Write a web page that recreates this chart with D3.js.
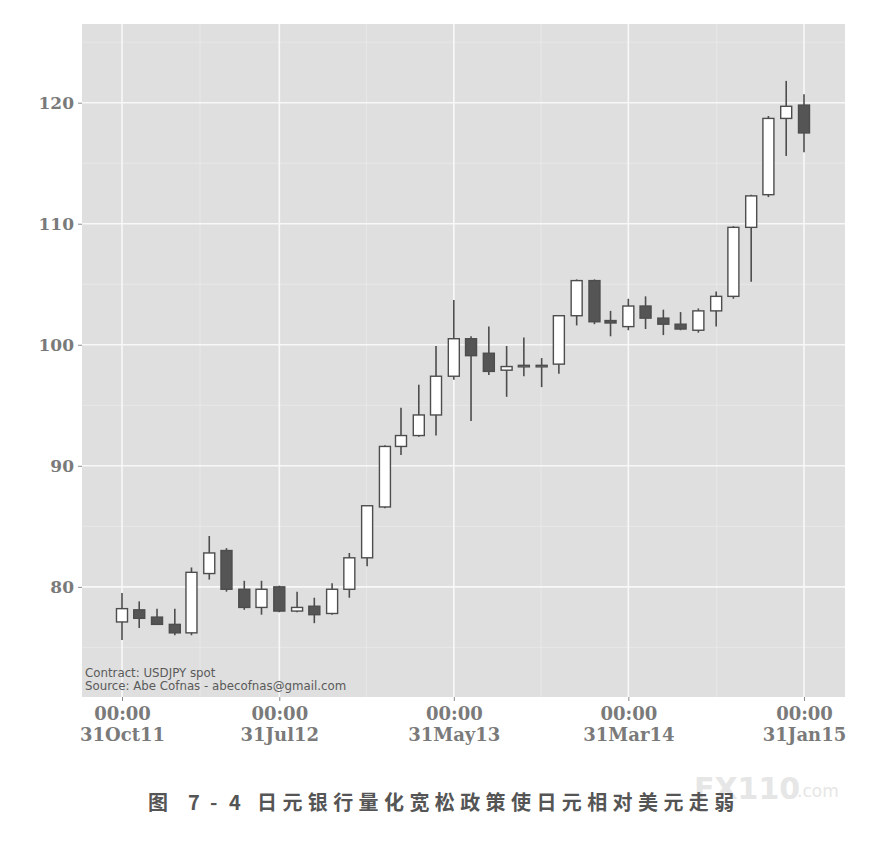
<!DOCTYPE html>
<html>
<head>
<meta charset="utf-8">
<script src="https://cdn.jsdelivr.net/npm/d3@7"></script>
<style>
  body { margin: 0; background: #fff; }
  svg { display: block; }
</style>
</head>
<body>
<div id="chart"></div>
<script>
// monthly USDJPY candles, month-end dates
const months = [
  '2011-10-31','2011-11-30','2011-12-31','2012-01-31','2012-02-29','2012-03-31','2012-04-30','2012-05-31',
  '2012-06-30','2012-07-31','2012-08-31','2012-09-30','2012-10-31','2012-11-30','2012-12-31','2013-01-31',
  '2013-02-28','2013-03-31','2013-04-30','2013-05-31','2013-06-30','2013-07-31','2013-08-31','2013-09-30',
  '2013-10-31','2013-11-30','2013-12-31','2014-01-31','2014-02-28','2014-03-31','2014-04-30','2014-05-31',
  '2014-06-30','2014-07-31','2014-08-31','2014-09-30','2014-10-31','2014-11-30','2014-12-31','2015-01-31'
];
const opens  = [77.1, 78.1, 77.5, 76.9, 76.2, 81.1, 83.0, 79.8, 78.3, 80.0, 78.0, 78.4, 77.8, 79.8, 82.4, 86.6,
                91.6, 92.5, 94.2, 97.4, 100.5, 99.3, 97.9, 98.2, 98.2, 98.4, 102.4, 105.3, 102.0, 101.5, 103.2, 102.2,
                101.7, 101.2, 102.8, 104.0, 109.7, 112.4, 118.7, 119.8];
const highs  = [79.5, 78.8, 78.2, 78.2, 81.6, 84.2, 83.2, 80.5, 80.5, 80.1, 79.6, 79.1, 80.3, 82.8, 86.7, 91.7,
                94.8, 96.7, 99.9, 103.7, 100.7, 101.5, 99.9, 100.6, 98.9, 102.4, 105.4, 105.4, 102.8, 103.8, 104.0, 102.9,
                102.7, 103.0, 104.4, 109.8, 112.4, 118.9, 121.8, 120.7];
const lows   = [75.6, 76.6, 76.9, 76.0, 76.0, 80.6, 79.6, 78.1, 77.7, 77.9, 77.9, 77.0, 77.7, 79.1, 81.7, 86.5,
                90.9, 92.4, 92.5, 97.1, 93.7, 97.5, 95.7, 97.4, 96.5, 97.6, 101.6, 101.7, 100.7, 101.2, 101.3, 100.8,
                101.2, 101.0, 101.5, 103.8, 105.2, 112.2, 115.6, 115.9];
const closes = [78.2, 77.4, 76.9, 76.2, 81.2, 82.8, 79.8, 78.3, 79.8, 78.0, 78.3, 77.7, 79.8, 82.4, 86.7, 91.6,
                92.5, 94.2, 97.4, 100.5, 99.1, 97.8, 98.2, 98.3, 98.3, 102.4, 105.3, 101.9, 101.8, 103.2, 102.2, 101.7,
                101.3, 102.8, 104.0, 109.7, 112.3, 118.7, 119.7, 117.5];

const xTicks = ['2011-10-31','2012-07-31','2013-05-31','2014-03-31','2015-01-31'];
const xMinorTicks = ['2012-03-15','2012-12-30','2013-10-30','2014-09-01'];
const yTicks = [80, 90, 100, 110, 120];
const yMinorTicks = [75, 85, 95, 105, 115, 125];

const noteLines = ['Contract: USDJPY spot', 'Source: Abe Cofnas - abecofnas@gmail.com'];
const captionNum = ['图', '7', '-', '4'];
const captionText = '日元银行量化宽松政策使日元相对美元走弱';

const W = 884, H = 843;
const panel = {left: 82, right: 845, top: 24, bottom: 697};

const parse = d3.utcParse('%Y-%m-%d');
const candles = months.map((m, i) => ({
  date: parse(m), open: opens[i], high: highs[i], low: lows[i], close: closes[i]
}));

const svg = d3.select('#chart').append('svg')
  .attr('width', W).attr('height', H);

const x = d3.scaleUtc()
  .domain([parse(xTicks[0]), parse(xTicks[xTicks.length - 1])])
  .range([122, 804]);

const y = d3.scaleLinear()
  .domain([70.9, 126.5])
  .range([panel.bottom, panel.top]);

// panel
svg.append('rect')
  .attr('x', panel.left).attr('y', panel.top)
  .attr('width', panel.right - panel.left).attr('height', panel.bottom - panel.top)
  .attr('fill', '#dfdfdf');

const grid = svg.append('g');
grid.selectAll('.ymin').data(yMinorTicks).join('line')
  .attr('x1', panel.left).attr('x2', panel.right)
  .attr('y1', d => y(d)).attr('y2', d => y(d))
  .attr('stroke', '#eaeaea').attr('stroke-width', 0.8);
grid.selectAll('.xmin').data(xMinorTicks).join('line')
  .attr('x1', d => x(parse(d))).attr('x2', d => x(parse(d)))
  .attr('y1', panel.top).attr('y2', panel.bottom)
  .attr('stroke', '#eaeaea').attr('stroke-width', 0.8);
grid.selectAll('.ymaj').data(yTicks).join('line')
  .attr('x1', panel.left).attr('x2', panel.right)
  .attr('y1', d => y(d)).attr('y2', d => y(d))
  .attr('stroke', '#f8f8f8').attr('stroke-width', 1.6);
grid.selectAll('.xmaj').data(xTicks).join('line')
  .attr('x1', d => x(parse(d))).attr('x2', d => x(parse(d)))
  .attr('y1', panel.top).attr('y2', panel.bottom)
  .attr('stroke', '#f8f8f8').attr('stroke-width', 1.6);

// axes
const fmtDay = d3.utcFormat('%d%b%y');
const xAxis = svg.append('g')
  .attr('transform', `translate(0,${panel.bottom})`)
  .call(d3.axisBottom(x).tickValues(xTicks.map(parse)).tickSize(4).tickFormat(''));
xAxis.select('.domain').remove();
xAxis.selectAll('.tick line').attr('stroke', '#8a8a8a');
xAxis.selectAll('.tick').each(function(d) {
  const t = d3.select(this).append('text')
    .attr('fill', '#7a7a7a')
    .style('font', 'bold 18px "DejaVu Serif"')
    .attr('text-anchor', 'middle');
  t.append('tspan').attr('x', 0).attr('y', 23).text('00:00');
  t.append('tspan').attr('x', 0).attr('y', 44).text(fmtDay(d));
});

const yAxis = svg.append('g')
  .attr('transform', `translate(${panel.left},0)`)
  .call(d3.axisLeft(y).tickValues(yTicks).tickSize(4).tickPadding(4));
yAxis.select('.domain').remove();
yAxis.selectAll('.tick line').attr('stroke', '#8a8a8a');
yAxis.selectAll('.tick text')
  .attr('fill', '#7a7a7a')
  .style('font', 'bold 17px "DejaVu Serif"');

// candles
const bw = 11;
const g = svg.append('g');
g.selectAll('.wick').data(candles).join('line')
  .attr('x1', d => x(d.date)).attr('x2', d => x(d.date))
  .attr('y1', d => y(d.high)).attr('y2', d => y(d.low))
  .attr('stroke', '#4d4d4d').attr('stroke-width', 1.6);
g.selectAll('.body').data(candles).join('rect')
  .attr('x', d => x(d.date) - bw / 2)
  .attr('y', d => y(Math.max(d.open, d.close)))
  .attr('width', bw)
  .attr('height', d => Math.max(1.5, Math.abs(y(d.open) - y(d.close))))
  .attr('fill', d => d.close >= d.open ? '#ffffff' : '#555555')
  .attr('stroke', '#4d4d4d').attr('stroke-width', 1.4);

// note in panel
svg.append('g').selectAll('text').data(noteLines).join('text')
  .attr('x', panel.left + 3)
  .attr('y', (d, i) => 677 + i * 13)
  .attr('fill', '#5a5a5a')
  .style('font', '11.8px "DejaVu Sans"')
  .text(d => d);

// watermark
svg.append('text').attr('x', 694).attr('y', 799)
  .attr('fill', '#e6e6e6').style('font', 'bold 30px "DejaVu Sans"').text('FX110');
svg.append('text').attr('x', 797).attr('y', 797)
  .attr('fill', '#e6e6e6').style('font', '17px "DejaVu Sans"').text('.com');

// caption
svg.append('g').selectAll('text').data(captionNum).join('text')
  .attr('x', (d, i) => [148, 188, 210, 229][i])
  .attr('y', 810)
  .attr('fill', '#555').style('font', 'bold 20px "Noto Sans CJK SC"')
  .text(d => d);
svg.append('text').attr('x', 257).attr('y', 810)
  .attr('fill', '#555').style('font', 'bold 20px "Noto Sans CJK SC"')
  .attr('letter-spacing', 5.4)
  .text(captionText);
</script>
</body>
</html>
